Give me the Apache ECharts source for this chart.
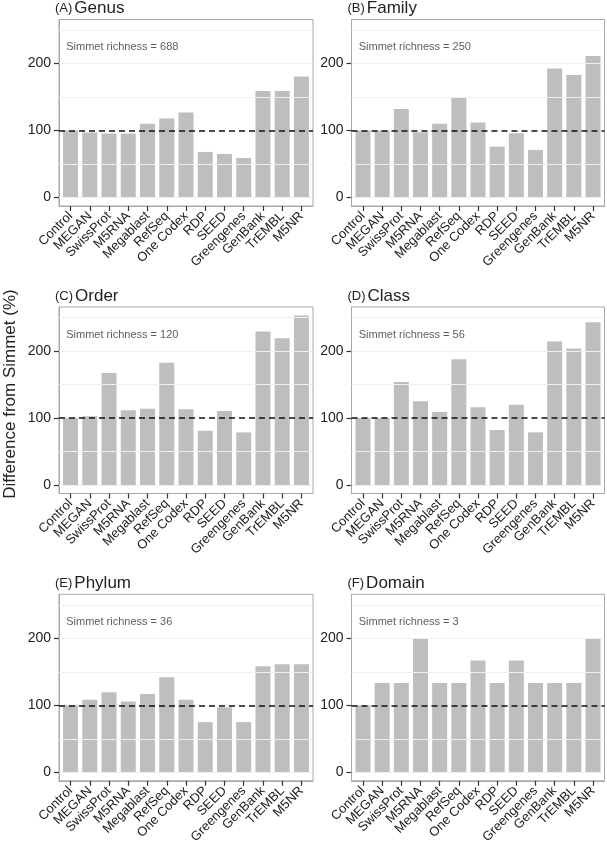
<!DOCTYPE html>
<html>
<head>
<meta charset="utf-8">
<script src="https://cdn.jsdelivr.net/npm/echarts@6/dist/echarts.min.js"></script>
<style>
  html, body { margin: 0; padding: 0; background: #fff; }
  #chart { width: 607px; height: 853px; }
</style>
</head>
<body>
<div id="chart"></div>
<script>
const categories = ['Control', 'MEGAN', 'SwissProt', 'M5RNA', 'Megablast', 'RefSeq', 'One Codex', 'RDP', 'SEED', 'Greengenes', 'GenBank', 'TrEMBL', 'M5NR'];

const genus = [100, 97, 95.5, 95.5, 110, 118, 127, 68, 65, 59, 159, 159, 180.5];
const family = [100, 100, 132, 97.5, 110, 149, 112, 76, 96, 71, 192.5, 183, 211];
const order = [100, 102.5, 167, 111.5, 114, 182.5, 113, 81, 110.5, 78.5, 229, 219, 253];
const classVals = [100, 100, 153.6, 125, 108.9, 187.5, 116.1, 82.1, 119.6, 78.6, 214.3, 203.6, 242.9];
const phylum = [100, 108.3, 119.4, 105.6, 116.7, 141.7, 108.3, 75, 97.2, 75, 158.3, 161.1, 161.1];
const domain = [100, 133.3, 133.3, 200, 133.3, 133.3, 166.7, 133.3, 166.7, 133.3, 133.3, 133.3, 200];

const panelTags = ['(A)', '(B)', '(C)', '(D)', '(E)', '(F)'];
const panelNames = ['Genus', 'Family', 'Order', 'Class', 'Phylum', 'Domain'];
const richness = [688, 250, 120, 56, 36, 3];
const panelValues = [genus, family, order, classVals, phylum, domain];

const yTicks = [0, 100, 200];
const gridLevels = [0, 50, 150, 200, 250];
const refLevel = 100;

const FONT = "'Liberation Sans', Arial, Helvetica, sans-serif";
const BAR_COLOR = '#bebebe';

// panel layout (px)
const colLeft = [59, 351.5];
const colWidth = [254, 253];
const rowTop = [19.5, 307, 594.3];
const panelHeight = 186.5;

const chart = echarts.init(document.getElementById('chart'));

const grids = [], xAxes = [], yAxes = [], series = [], titles = [];

panelValues.forEach((vals, p) => {
  const col = p % 2, row = Math.floor(p / 2);
  grids.push({
    left: colLeft[col], top: rowTop[row], width: colWidth[col], height: panelHeight,
    show: true, borderColor: '#a8a8a8', borderWidth: 1, backgroundColor: '#fff'
  });
  const idx = categories.map((c, i) => i);
  xAxes.push({
    gridIndex: p, type: 'value', min: -0.6, max: 12.6,
    axisLine: { show: true, onZero: false, lineStyle: { color: '#a8a8a8', width: 1 } },
    axisTick: { show: true, customValues: idx, length: 5, lineStyle: { color: '#333', width: 1.2 } },
    axisLabel: {
      show: true, customValues: idx, rotate: 45, margin: 8,
      formatter: v => categories[Math.round(v)],
      fontFamily: FONT, fontSize: 13, color: '#222'
    },
    splitLine: { show: false }
  });
  yAxes.push({
    gridIndex: p, type: 'value', min: -12.65, max: 265.65,
    axisLine: { show: true, onZero: false, lineStyle: { color: '#a8a8a8', width: 1 } },
    axisTick: { show: true, customValues: yTicks, length: 5, lineStyle: { color: '#333', width: 1.2 } },
    axisLabel: { show: true, customValues: yTicks, margin: 8, fontFamily: FONT, fontSize: 14, color: '#222' },
    splitLine: { show: false }
  });

  // faint background grid lines
  series.push({
    type: 'line', xAxisIndex: p, yAxisIndex: p, z: 1, silent: true,
    data: [],
    markLine: {
      silent: true, symbol: ['none', 'none'], label: { show: false },
      lineStyle: { color: '#efefef', width: 1, type: 'solid' },
      data: gridLevels.map(v => ({ yAxis: v }))
    }
  });

  // annotation text
  series.push({
    type: 'scatter', xAxisIndex: p, yAxisIndex: p, z: 3, silent: true,
    symbol: 'circle', symbolSize: 1,
    itemStyle: { color: 'rgba(0,0,0,0)' },
    data: [[-0.25, 224]],
    label: {
      show: true, position: 'right', distance: 0,
      formatter: 'Simmet richness = ' + richness[p],
      fontFamily: FONT, fontSize: 11, color: '#333'
    }
  });

  series.push({
    type: 'bar', xAxisIndex: p, yAxisIndex: p, z: 2,
    barWidth: 15,
    itemStyle: { color: BAR_COLOR },
    data: vals.map((v, i) => [i, v]),
    markLine: {
      silent: true, symbol: ['none', 'none'], label: { show: false },
      lineStyle: { color: '#111', width: 1.5, type: [6, 4] },
      data: [{ yAxis: refLevel }]
    }
  });

  titles.push({
    text: '{a|' + panelTags[p] + '}{b|' + panelNames[p] + '}',
    left: colLeft[col] - 4, top: rowTop[row] - 20,
    padding: 0,
    textStyle: {
      rich: {
        a: { fontFamily: FONT, fontSize: 13, fontWeight: 'normal', color: '#222', lineHeight: 13, verticalAlign: 'middle', padding: [0, 2, 0, 0] },
        b: { fontFamily: FONT, fontSize: 17, fontWeight: 'normal', color: '#222', lineHeight: 18 }
      }
    }
  });
});

chart.setOption({
  animation: false,
  backgroundColor: '#fff',
  title: titles,
  grid: grids,
  xAxis: xAxes,
  yAxis: yAxes,
  series: series,
  graphic: [{
    type: 'text', x: 10, y: 394, rotation: Math.PI / 2,
    style: {
      text: 'Difference from Simmet (%)', fontFamily: FONT, fontSize: 17,
      fill: '#222', align: 'center', verticalAlign: 'middle'
    }
  }]
});
</script>
</body>
</html>
